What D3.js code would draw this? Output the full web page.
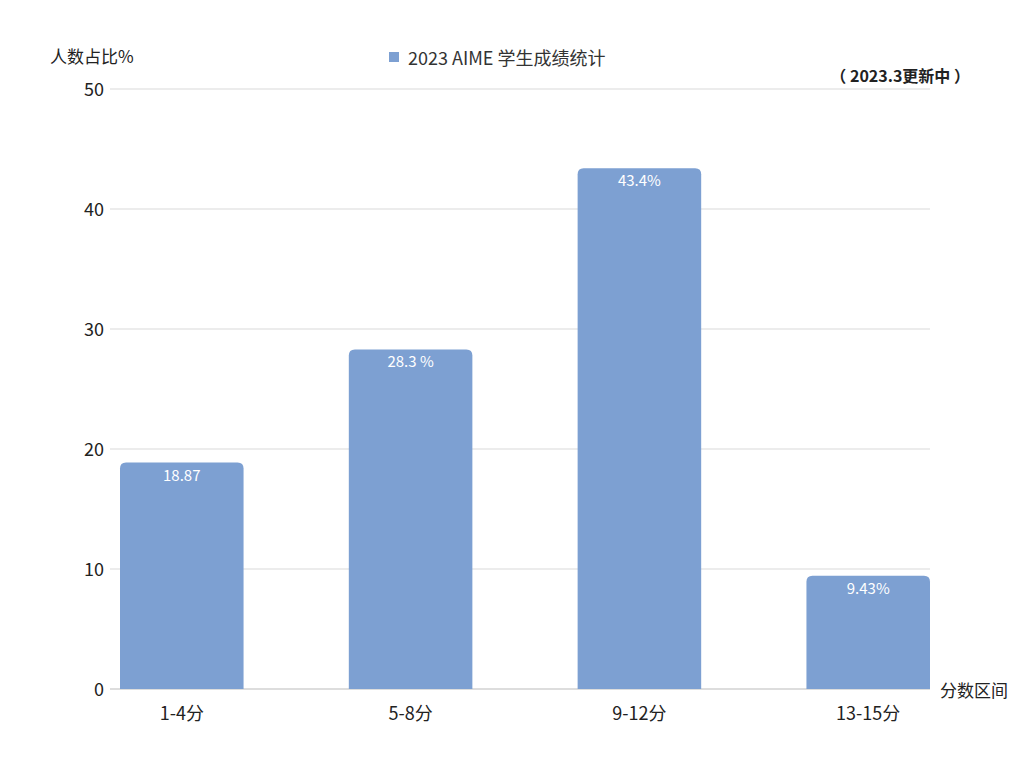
<!DOCTYPE html>
<html><head><meta charset="utf-8">
<script src="https://cdn.jsdelivr.net/npm/d3@7"></script>
<style>body{margin:0;background:#fff}text{font-family:"Noto Sans CJK SC","Noto Sans",sans-serif}</style>
</head><body><svg id="c" width="1024" height="768"></svg>
<script>
const categories = ["1-4分","5-8分","9-12分","13-15分"];
const values = [18.87, 28.3, 43.4, 9.43];
const valueLabels = ["18.87","28.3 %","43.4%","9.43%"];
const yTicks = [0,10,20,30,40,50];

const svg = d3.select("#c");
const x = d3.scaleBand().domain(categories).range([120,930]).paddingInner(0.46).paddingOuter(0);
const y = d3.scaleLinear().domain([0,50]).range([689,89]);
const color = "#7da0d2";

svg.selectAll(".grid").data(yTicks).enter().append("line")
  .attr("x1",110).attr("x2",930).attr("y1",d=>y(d)).attr("y2",d=>y(d))
  .attr("stroke",d=>d===0?"#bbb":"#d9d9d9").attr("stroke-width",1);
svg.selectAll(".yl").data(yTicks).enter().append("text")
  .attr("x",104).attr("y",d=>y(d)+7).attr("text-anchor","end")
  .attr("font-size",18).attr("fill","#222").text(d=>d);

const r = 6;
svg.selectAll(".bar").data(values).enter().append("path")
  .attr("fill",color)
  .attr("d",(d,i)=>{
    const x0=x(categories[i]), w=x.bandwidth(), yt=y(d), yb=y(0);
    return `M${x0},${yb}V${yt+r}Q${x0},${yt} ${x0+r},${yt}H${x0+w-r}Q${x0+w},${yt} ${x0+w},${yt+r}V${yb}Z`;
  });
svg.selectAll(".vl").data(values).enter().append("text")
  .attr("x",(d,i)=>x(categories[i])+x.bandwidth()/2).attr("y",d=>y(d)+18)
  .attr("text-anchor","middle").attr("font-size",15).attr("fill","#fff")
  .text((d,i)=>valueLabels[i]);
svg.selectAll(".xl").data(categories).enter().append("text")
  .attr("x",d=>x(d)+x.bandwidth()/2).attr("y",720).attr("text-anchor","middle")
  .attr("font-size",18).attr("fill","#222").text(d=>d);

svg.append("text").attr("x",50).attr("y",63).attr("font-size",17).attr("fill","#222").text("人数占比%");
svg.append("text").attr("x",940).attr("y",697).attr("font-size",17).attr("fill","#222").text("分数区间");
svg.append("rect").attr("x",389).attr("y",52).attr("width",10).attr("height",10).attr("fill",color);
svg.append("text").attr("x",408).attr("y",65).attr("font-size",18).attr("fill","#333").text("2023 AIME 学生成绩统计");
svg.append("text").attr("x",970).attr("y",82).attr("text-anchor","end").attr("font-size",16).attr("font-weight","bold").attr("fill","#222").text("（ 2023.3更新中 ）");
</script></body></html>
